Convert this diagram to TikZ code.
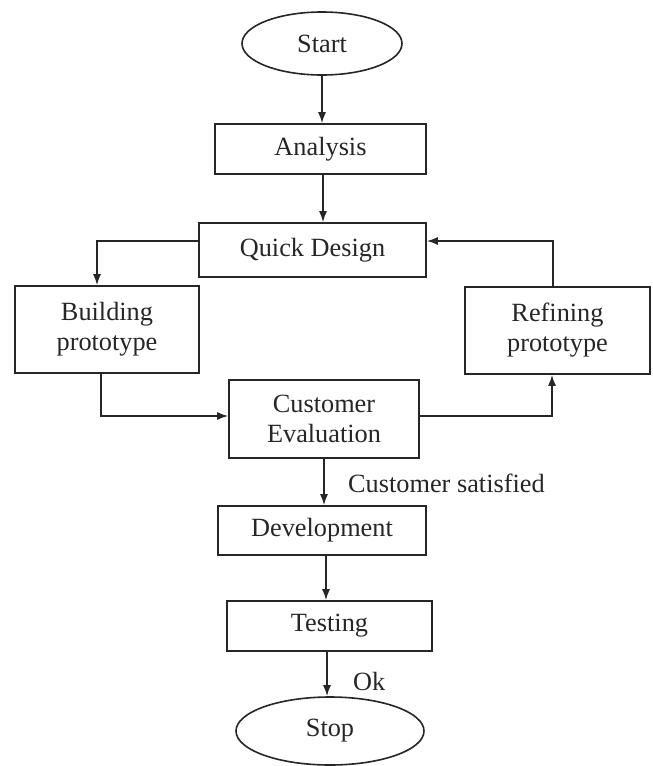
\documentclass[tikz,border=0pt]{standalone}
\usepackage{fontspec}
\setmainfont{Liberation Serif}
\usetikzlibrary{shapes.geometric,arrows.meta}
\begin{document}
\begin{tikzpicture}[x=1pt,y=-1pt,
  txt/.style={font=\fontsize{26.3}{30}\selectfont, text=black!85},
  box/.style={txt, draw=black!85, line width=1.6pt, inner sep=0pt, align=center},
  oval/.style={txt, draw=black!85, ellipse, line width=1.6pt, inner sep=0pt},
  conn/.style={draw=black!85, line width=1.6pt, -{Latex[length=11pt,width=8pt]}},
  lbl/.style={txt, anchor=west, inner sep=0pt}]
\useasboundingbox (0,0) rectangle (653,766);
\node[oval, minimum width=160pt, minimum height=63pt] (start) at (322,43.5) {Start};
\node[box, minimum width=211pt, minimum height=50pt] (an) at (320.5,149) {Analysis};
\node[box, minimum width=227pt, minimum height=54pt] (qd) at (312.5,250) {Quick Design};
\node[box, minimum width=184pt, minimum height=87pt] (bp) at (107,329.5) {Building\\prototype};
\node[box, minimum width=185pt, minimum height=87pt] (rp) at (557.5,330.5) {Refining\\prototype};
\node[box, minimum width=190pt, minimum height=78pt] (ce) at (324,419) {Customer\\Evaluation};
\node[box, minimum width=208pt, minimum height=49pt] (dev) at (322,530.5) {Development};
\node[box, minimum width=205pt, minimum height=50pt] (test) at (329.5,626) {Testing};
\node[oval, minimum width=188pt, minimum height=68pt] (stop) at (330,731) {Stop};
\node[lbl] (cs) at (348,483) {Customer satisfied};
\node[lbl] (ok) at (353,681) {Ok};
\draw[conn] (start.south) -- (start.south |- an.north);
\draw[conn] ([xshift=2.5pt]an.south) -- ([xshift=2.5pt]an.south |- qd.north);
\draw[conn] ([yshift=9pt]qd.west) -| ([xshift=-10pt]bp.north);
\draw[conn] ([xshift=-6pt]bp.south) |- ([yshift=3pt]ce.west);
\draw[conn] ([yshift=3pt]ce.east) -| ([xshift=-5.5pt]rp.south);
\draw[conn] ([xshift=-4.5pt]rp.north) |- ([yshift=9pt]qd.east);
\draw[conn] (ce.south) -- (ce.south |- dev.north);
\draw[conn] ([xshift=4pt]dev.south) -- ([xshift=4pt]dev.south |- test.north);
\draw[conn] ([xshift=-2.5pt]test.south) -- ([xshift=-2.5pt]test.south |- stop.north);
\end{tikzpicture}
\end{document}
